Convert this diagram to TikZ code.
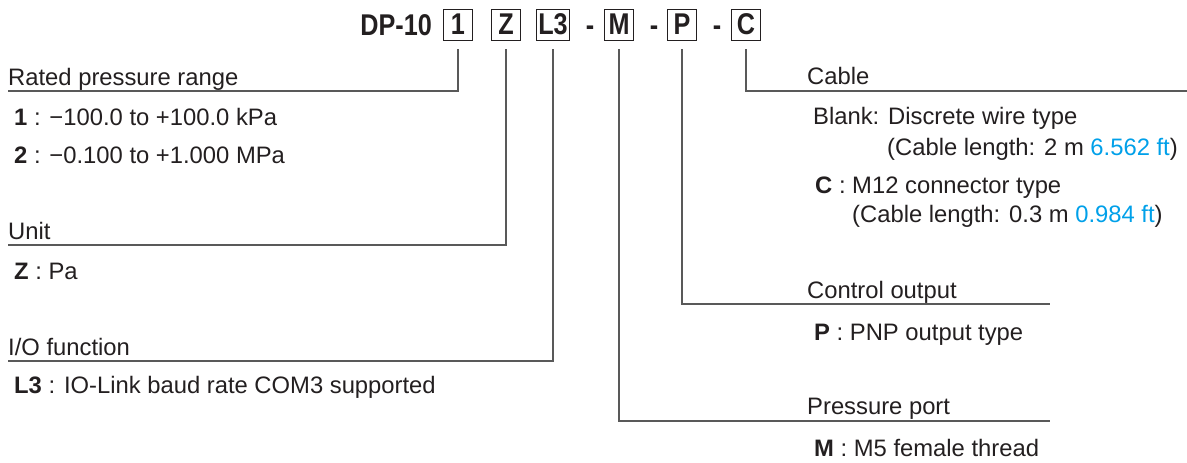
\documentclass[tikz,border=0pt]{standalone}
\usepackage{fontspec}
\setmainfont{Liberation Sans}
\usepackage{graphicx}
\definecolor{txt}{HTML}{231F20}
\definecolor{ln}{HTML}{595959}
\definecolor{ftc}{HTML}{00A0E9}
\newcommand{\cnd}[1]{\scalebox{0.84}[1]{#1}}
\begin{document}
\begin{tikzpicture}[x=1pt,y=-1pt,
  lab/.style={anchor=base west,inner sep=0pt,font=\fontsize{23.8}{28}\selectfont,text=txt},
  title/.style={inner sep=0pt,font=\fontsize{30}{34}\bfseries\selectfont,text=txt},
  codebox/.style={draw=txt,line width=0.8pt,minimum width=29pt,minimum height=31pt,inner sep=2pt,
    font=\fontsize{30}{34}\bfseries\selectfont,text=txt},
  conn/.style={draw=ln,line width=1.3pt}]
\useasboundingbox (0,0) rectangle (1187,463);
% model code
\node[title,anchor=base east] (dp) at (432,35) {\cnd{DP-10}};
\node[codebox] (b1) at (458,24.5) {\cnd{1}};
\node[codebox] (bZ) at (506,24.5) {\cnd{Z}};
\node[codebox] (bL) at (553,24.5) {\cnd{L3}};
\node[title,anchor=base] (d1) at (590,35) {\cnd{-}};
\node[codebox] (bM) at (619,24.5) {\cnd{M}};
\node[title,anchor=base] (d2) at (654,35) {\cnd{-}};
\node[codebox] (bP) at (682,24.5) {\cnd{P}};
\node[title,anchor=base] (d3) at (717,35) {\cnd{-}};
\node[codebox] (bC) at (746,24.5) {\cnd{C}};
% line ends
\coordinate (e1) at (8,91);
\coordinate (eZ) at (8,245);
\coordinate (eL) at (8,361);
\coordinate (eM) at (1050,421);
\coordinate (eP) at (1050,304);
\coordinate (eC) at (1187,91);
% connectors
\draw[conn] ([yshift=-9pt]b1.south) |- (e1);
\draw[conn] ([yshift=-9pt]bZ.south) |- (eZ);
\draw[conn] ([yshift=-9pt]bL.south) |- (eL);
\draw[conn] ([yshift=-9pt]bM.south) |- (eM);
\draw[conn] ([yshift=-9pt]bP.south) |- (eP);
\draw[conn] ([yshift=-9pt]bC.south) |- (eC);
% left labels
\node[lab] (t1) at (8,85) {Rated pressure range};
\node[lab] (t1a) at (14,125) {\textbf{1} : −100.0 to +100.0 kPa};
\node[lab] (t1b) at (14,163) {\textbf{2} : −0.100 to +1.000 MPa};
\node[lab] (tZ) at (8,239) {Unit};
\node[lab] (tZa) at (14,279) {\textbf{Z} : Pa};
\node[lab] (tL) at (8,355) {I/O function};
\node[lab] (tLa) at (14,393) {\textbf{L3} : IO-Link baud rate COM3 supported};
% right labels
\node[lab] (tC) at (807,84) {Cable};
\node[lab] (tCa) at (813,124) {Blank: Discrete wire type};
\node[lab] (tCb) at (887,155) {(Cable length: 2 m \textcolor{ftc}{6.562 ft})};
\node[lab] (tCc) at (815,193) {\textbf{C} : M12 connector type};
\node[lab] (tCd) at (852,222) {(Cable length: 0.3 m \textcolor{ftc}{0.984 ft})};
\node[lab] (tP) at (807,298) {Control output};
\node[lab] (tPa) at (814,340) {\textbf{P} : PNP output type};
\node[lab] (tM) at (807,414) {Pressure port};
\node[lab] (tMa) at (814,456) {\textbf{M} : M5 female thread};
\end{tikzpicture}
\end{document}
